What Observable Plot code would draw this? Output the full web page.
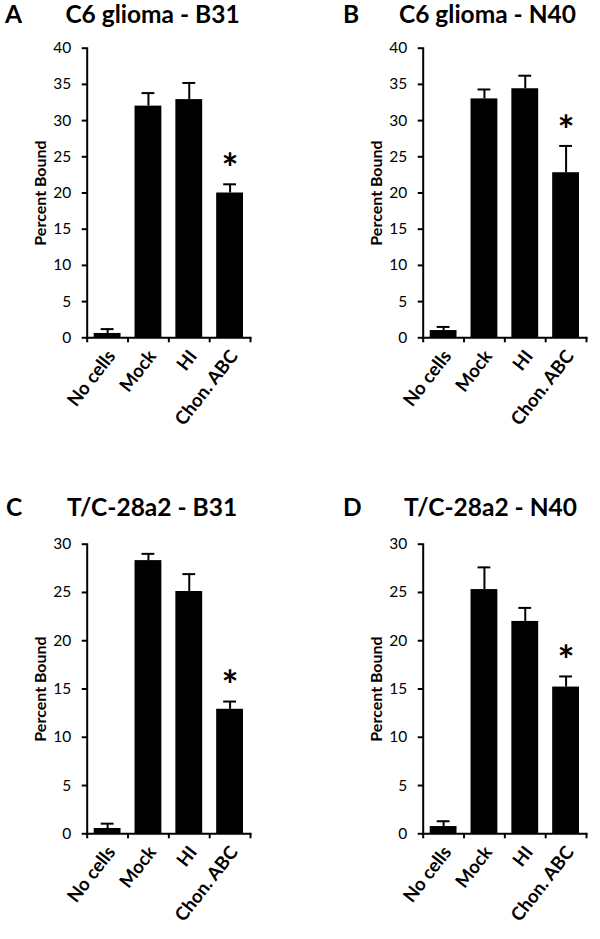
<!DOCTYPE html>
<html><head><meta charset="utf-8">
<script src="https://cdn.jsdelivr.net/npm/d3@7"></script>
<script src="https://cdn.jsdelivr.net/npm/@observablehq/plot@0.6"></script>
<style>
body{margin:0;background:#fff;}
#wrap{position:relative;width:600px;height:939px;overflow:hidden;font-family:Lato,"Open Sans",sans-serif;}
.panel{position:absolute;}
.hd{position:absolute;font-weight:bold;font-size:24.5px;line-height:1;color:#000;white-space:nowrap;}
.ttl{width:240px;text-align:center;}
</style></head><body><div id="wrap"></div>
<script>
// ---- data ----
const categories = ["No cells", "Mock", "HI", "Chon. ABC"];
const significant = ["Chon. ABC"];
const panelLetters = ["A", "B", "C", "D"];
const panelTitles = ["C6 glioma - B31", "C6 glioma - N40", "T/C-28a2 - B31", "T/C-28a2 - N40"];
const yMaxima = [40, 40, 30, 30];
const yTickStep = 5;
const yLabel = "Percent Bound";

const meanA = [0.6, 32.0, 32.9, 20.0];
const errA  = [0.6, 1.8, 2.3, 1.2];
const meanB = [1.0, 33.0, 34.4, 22.8];
const errB  = [0.5, 1.3, 1.8, 3.7];
const meanC = [0.55, 28.3, 25.1, 12.9];
const errC  = [0.5, 0.7, 1.8, 0.8];
const meanD = [0.75, 25.3, 22.0, 15.2];
const errD  = [0.55, 2.3, 1.4, 1.1];

const means = [meanA, meanB, meanC, meanD];
const errs = [errA, errB, errC, errD];

// ---- layout ----
const panelLeft = [0, 336, 0, 336];
const panelTop = [0, 0, 495.6, 495.6];
const letterLeft = [5, 343, 6, 343];
const titleCenter = [152.5, 487.5, 152, 490.5];
const headTop = [2, 2, 495, 495];
const FONT = "Lato, 'Open Sans', sans-serif";
const wrap = document.getElementById("wrap");

function panel(k) {
  const rows = categories.map((c, i) => ({category: c, idx: i, pos: i + 0.5, mean: means[k][i], err: errs[k][i]}));
  const ymax = yMaxima[k];
  const chart = Plot.plot({
    width: 264,
    height: 447.3,
    marginLeft: 86.7,
    marginRight: 14,
    marginTop: 47.7,
    marginBottom: 110,
    style: {fontFamily: FONT, color: "#000", background: "transparent", overflow: "visible"},
    x: {domain: [0, categories.length], axis: null},
    y: {domain: [0, ymax], axis: null},
    marks: [
      Plot.rectY(rows, {x1: "idx", x2: d => d.idx + 1, y1: 0, y2: "mean", insetLeft: 7, insetRight: 7, fill: "#000"}),
      Plot.ruleX(rows, {x: "pos", y1: "mean", y2: d => d.mean + d.err, stroke: "#000", strokeWidth: 2}),
      Plot.ruleY(rows, {x1: "idx", x2: d => d.idx + 1, y: d => d.mean + d.err, insetLeft: 14, insetRight: 14, stroke: "#000", strokeWidth: 2}),
      Plot.text(rows.filter(d => significant.includes(d.category)), {x: "pos", y: d => d.mean + d.err, text: () => "*", dy: -14, fontSize: 40, fontWeight: "bold", fill: "#000"}),
      Plot.axisY(d3.range(0, ymax + 1, yTickStep), {tickSize: 5, tickPadding: 11, fontSize: 15.5, strokeWidth: 2, label: null, stroke: "#000", fill: "#000"}),
      Plot.axisX(d3.range(0, categories.length + 1), {tickSize: 5, tickFormat: () => "", strokeWidth: 2, label: null, stroke: "#000"}),
      Plot.frame({anchor: "left", stroke: "#000", strokeWidth: 2}),
      Plot.frame({anchor: "bottom", stroke: "#000", strokeWidth: 2}),
      Plot.text(rows, {x: "pos", y: 0, text: "category", rotate: -52, textAnchor: "end", dx: 4, dy: 15, fontSize: 18.5, fontWeight: "bold", fill: "#000"}),
      Plot.text([yLabel], {frameAnchor: "left", textAnchor: "middle", dx: -46.7, rotate: -90, fontSize: 16, fontWeight: "bold", fill: "#000"})
    ]
  });
  chart.classList.add("panel");
  chart.style.left = panelLeft[k] + "px";
  chart.style.top = panelTop[k] + "px";
  wrap.appendChild(chart);

  const letter = document.createElement("div");
  letter.className = "hd";
  letter.textContent = panelLetters[k];
  letter.style.left = letterLeft[k] + "px";
  letter.style.top = headTop[k] + "px";
  wrap.appendChild(letter);

  const title = document.createElement("div");
  title.className = "hd ttl";
  title.textContent = panelTitles[k];
  title.style.left = (titleCenter[k] - 120) + "px";
  title.style.top = headTop[k] + "px";
  wrap.appendChild(title);
}
[0, 1, 2, 3].forEach(panel);
</script></body></html>
